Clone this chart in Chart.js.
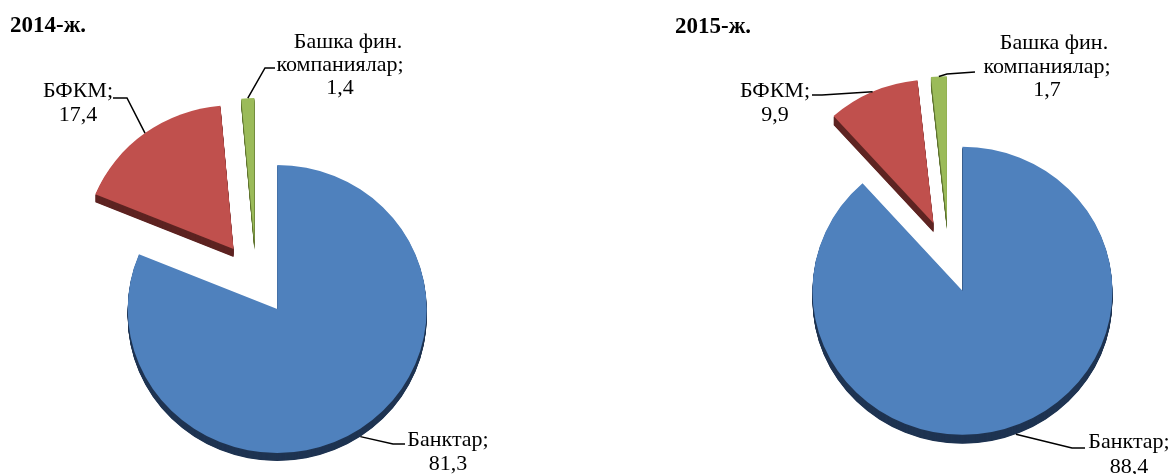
<!DOCTYPE html>
<html><head><meta charset="utf-8">
<script src="https://cdn.jsdelivr.net/npm/chart.js@4.4.0/dist/chart.umd.min.js"></script>
<style>
html,body{margin:0;padding:0;background:#fff;}
#wrap{position:relative;width:1170px;height:474px;overflow:hidden;}
canvas{position:absolute;top:0;}
</style></head><body>
<div id="wrap">
<canvas id="c1" width="585" height="474" style="left:0;width:585px;height:474px"></canvas>
<canvas id="c2" width="585" height="474" style="left:585px;width:585px;height:474px"></canvas>
</div>
<script>
// ---- data ----
const categories = ['Банктар', 'БФКМ', 'Башка фин. компаниялар'];
const categoryLines = [['Банктар;'], ['БФКМ;'], ['Башка фин.', 'компаниялар;']];
const years = ['2014-ж.', '2015-ж.'];
const values2014 = [81.3, 17.4, 1.4];
const values2015 = [88.4, 9.9, 1.7];

// ---- style ----
const FONT = '"Liberation Serif", "Times New Roman", serif';
const topColors = ['#4f81bd', '#c0504d', '#9bbb59'];
const sideColors = ['#1f3452', '#5e2422', '#5f7431'];

const fmt = v => String(v).replace('.', ',');

const pie3d = {
  id: 'pie3d',
  beforeDatasetsDraw(chart) {
    const st = chart.options.plugins.pie3d;
    const ctx = chart.ctx;
    const els = chart.getDatasetMeta(0).data;
    const cy = els[0].y;
    ctx.save();
    ctx.translate(0, cy); ctx.scale(1, st.k); ctx.translate(0, -cy);
    for (let dz = st.depth; dz >= 1; dz -= 0.5) {
      els.forEach((el, i) => {
        const h = (el.startAngle + el.endAngle) / 2;
        const x = el.x + Math.cos(h) * st.explode;
        const y = el.y + Math.sin(h) * st.explode + dz / st.k;
        ctx.beginPath();
        ctx.moveTo(x, y);
        ctx.arc(x, y, el.outerRadius, el.startAngle, el.endAngle);
        ctx.closePath();
        ctx.fillStyle = st.side[i];
        ctx.fill();
      });
    }
    els.forEach((el) => {
      const h = (el.startAngle + el.endAngle) / 2;
      const x = el.x + Math.cos(h) * st.explode;
      const y = el.y + Math.sin(h) * st.explode;
      ctx.beginPath();
      ctx.moveTo(x, y);
      ctx.arc(x, y, el.outerRadius, el.startAngle, el.endAngle);
      ctx.closePath();
      ctx.fillStyle = el.options.backgroundColor;
      ctx.fill();
    });
    ctx.restore();
    return false;
  },
  afterDraw(chart) {
    const st = chart.options.plugins.pie3d;
    const ctx = chart.ctx;
    const els = chart.getDatasetMeta(0).data;
    const vals = chart.data.datasets[0].data;
    ctx.save();
    // title
    ctx.fillStyle = '#000';
    ctx.font = 'bold 23px ' + FONT;
    ctx.textAlign = 'left';
    ctx.textBaseline = 'alphabetic';
    ctx.fillText(st.title, st.titlePos[0], st.titlePos[1]);
    // labels with leader lines
    els.forEach((el, i) => {
      const L = st.labels[i];
      const h = (el.startAngle + el.endAngle) / 2;
      const rr = st.explode + el.outerRadius;
      const sx = el.x + Math.cos(h) * rr;
      const sy = el.y + st.k * Math.sin(h) * rr + (Math.sin(h) > 0 ? st.depth : 0);
      ctx.beginPath();
      ctx.moveTo(sx, sy);
      L.elbow.forEach(p => ctx.lineTo(p[0], p[1]));
      ctx.strokeStyle = '#000';
      ctx.lineWidth = 1.5;
      ctx.stroke();
      const lines = categoryLines[i].slice();
      lines.push(fmt(vals[i]));
      ctx.font = '22px ' + FONT;
      ctx.textAlign = 'center';
      ctx.fillStyle = '#000';
      lines.forEach((t, j) => {
        ctx.fillText(t, L.cx + (L.dx ? L.dx[j] || 0 : 0), L.base[j]);
      });
    });
    ctx.restore();
  }
};

function makeChart(id, values, title, cfg) {
  return new Chart(document.getElementById(id), {
    type: 'pie',
    data: {
      labels: categories,
      datasets: [{ data: values, backgroundColor: topColors, borderWidth: 0 }]
    },
    options: {
      responsive: false,
      devicePixelRatio: 1,
      animation: false,
      events: [],
      radius: cfg.r,
      layout: { padding: cfg.pad },
      plugins: {
        legend: { display: false },
        tooltip: { enabled: false },
        title: { display: false },
        pie3d: {
          title: title, titlePos: cfg.titlePos,
          k: cfg.k, depth: cfg.depth, explode: cfg.explode,
          side: sideColors, labels: cfg.labels
        }
      }
    },
    plugins: [pie3d]
  });
}

makeChart('c1', values2014, years[0], {
  r: 149.5, k: 0.963, depth: 8, explode: 38,
  pad: { left: 106.3, right: 179.2, top: 129.1, bottom: 45.9 },
  titlePos: [10, 32],
  labels: [
    { elbow: [[393, 444], [405, 444]], cx: 448, base: [446, 470] },
    { elbow: [[127, 98], [113, 98]], cx: 78, base: [97, 121] },
    { elbow: [[265, 68], [275, 68]], cx: 340, dx: [8, 0, 0], base: [48, 71, 94] }
  ]
});

makeChart('c2', values2015, years[1], {
  r: 150, k: 0.96, depth: 9, explode: 38,
  pad: { left: 213.9, right: 71.1, top: 106.7, bottom: 67.3 },
  titlePos: [90, 33],
  labels: [
    { elbow: [[487, 448], [500, 448]], cx: 544, base: [448, 473] },
    { elbow: [[237, 95], [227, 95]], cx: 190, base: [97, 121] },
    { elbow: [[362, 74], [390, 72]], cx: 462, dx: [7, 0, 0], base: [49, 73, 96] }
  ]
});
</script>
</body></html>
